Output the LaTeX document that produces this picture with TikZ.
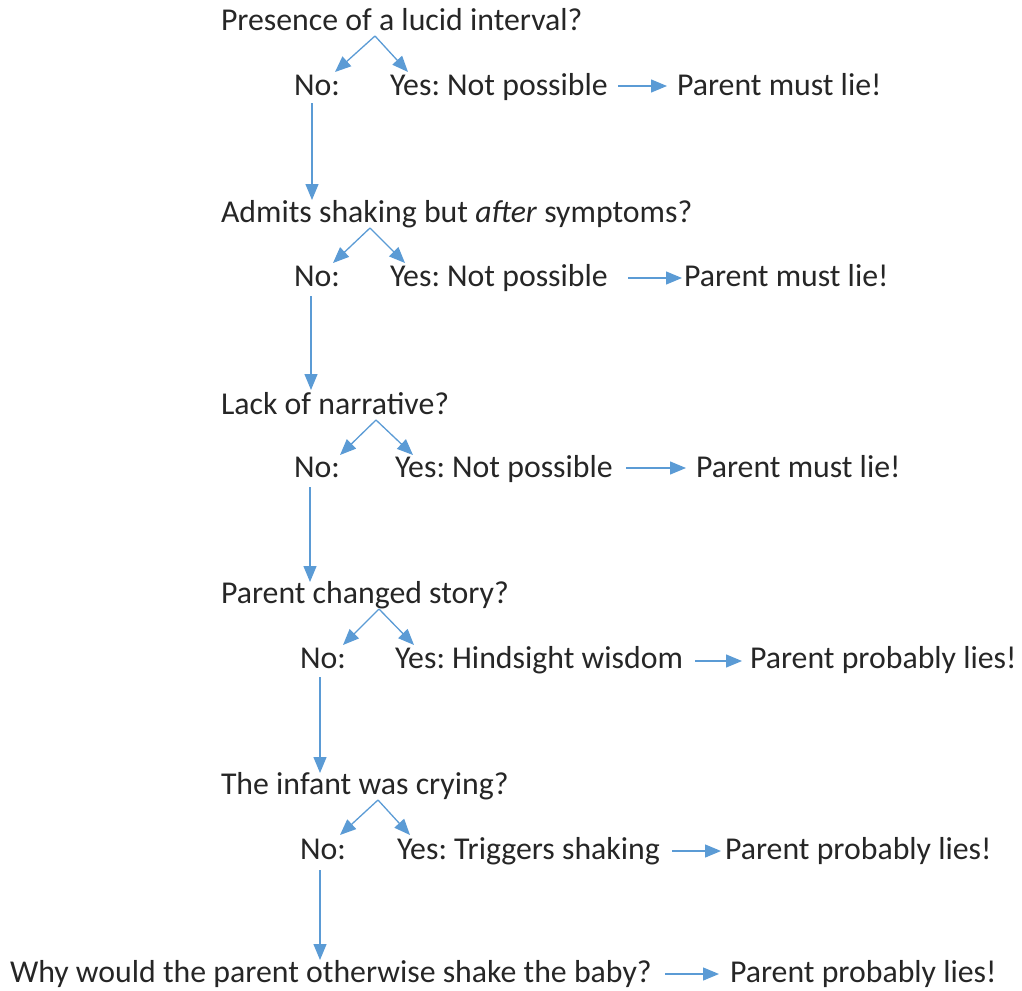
\documentclass[tikz,border=0pt]{standalone}
\usepackage{fontspec}
\setmainfont{Carlito}
\usetikzlibrary{arrows.meta}
\definecolor{arrblue}{RGB}{91,155,213}
\definecolor{txt}{RGB}{38,38,38}
\frenchspacing
\begin{document}
\begin{tikzpicture}[x=1pt,y=-1pt,
  lbl/.style={anchor=base west,inner sep=0pt,outer sep=0pt,text=txt,font=\fontsize{31.8}{36}\selectfont},
  conn/.style={draw=arrblue,line width=1.3pt,-{Triangle[length=16pt,width=13pt]}},
  hconn/.style={draw=arrblue,line width=1.3pt,-{Triangle[length=16pt,width=13pt]}}]
\useasboundingbox (0,0) rectangle (1022,990);
% Row 1
\node[lbl] (q1) at (221,31) {Presence of a lucid interval?};
\node[lbl] (n1) at (294,95) {No:};
\node[lbl] (y1) at (390,95) {Yes: Not possible};
\node[lbl] (r1) at (677,95) {Parent must lie!};
\coordinate (a1) at (375,36);
\coordinate (an1) at (335,72);
\coordinate (ay1) at (408,72);
\draw[conn] (a1) -- (an1);
\draw[conn] (a1) -- (ay1);
\coordinate (h1s) at (618,86);
\coordinate (h1e) at (667,86);
\draw[hconn] (h1s) -- (h1e);
\coordinate (v1s) at (312,103);
\coordinate (v1e) at (312,200);
\draw[conn] (v1s) -- (v1e);
% Row 2
\node[lbl] (q2) at (221,222) {Admits shaking but \textit{after} symptoms?};
\node[lbl] (n2) at (294,286) {No:};
\node[lbl] (y2) at (390,286) {Yes: Not possible};
\node[lbl] (r2) at (684,286) {Parent must lie!};
\coordinate (a2) at (370,228);
\coordinate (an2) at (333,263);
\coordinate (ay2) at (405,263);
\draw[conn] (a2) -- (an2);
\draw[conn] (a2) -- (ay2);
\coordinate (h2s) at (628,278);
\coordinate (h2e) at (682,278);
\draw[hconn] (h2s) -- (h2e);
\coordinate (v2s) at (311,296);
\coordinate (v2e) at (311,390);
\draw[conn] (v2s) -- (v2e);
% Row 3
\node[lbl] (q3) at (221,414) {Lack of narrative?};
\node[lbl] (n3) at (294,477) {No:};
\node[lbl] (y3) at (395,477) {Yes: Not possible};
\node[lbl] (r3) at (696,477) {Parent must lie!};
\coordinate (a3) at (376,420);
\coordinate (an3) at (340,455);
\coordinate (ay3) at (413,455);
\draw[conn] (a3) -- (an3);
\draw[conn] (a3) -- (ay3);
\coordinate (h3s) at (626,468);
\coordinate (h3e) at (686,468);
\draw[hconn] (h3s) -- (h3e);
\coordinate (v3s) at (310,487);
\coordinate (v3e) at (310,582);
\draw[conn] (v3s) -- (v3e);
% Row 4
\node[lbl] (q4) at (221,603) {Parent changed story?};
\node[lbl] (n4) at (300,668) {No:};
\node[lbl] (y4) at (395,668) {Yes: Hindsight wisdom};
\node[lbl] (r4) at (750,668) {Parent probably lies!};
\coordinate (a4) at (379,609);
\coordinate (an4) at (343,645);
\coordinate (ay4) at (414,645);
\draw[conn] (a4) -- (an4);
\draw[conn] (a4) -- (ay4);
\coordinate (h4s) at (695,661);
\coordinate (h4e) at (742,661);
\draw[hconn] (h4s) -- (h4e);
\coordinate (v4s) at (320,677);
\coordinate (v4e) at (320,773);
\draw[conn] (v4s) -- (v4e);
% Row 5
\node[lbl] (q5) at (221,794) {The infant was crying?};
\node[lbl] (n5) at (300,859) {No:};
\node[lbl] (y5) at (397,859) {Yes: Triggers shaking};
\node[lbl] (r5) at (725,859) {Parent probably lies!};
\coordinate (a5) at (378,800);
\coordinate (an5) at (340,835);
\coordinate (ay5) at (410,835);
\draw[conn] (a5) -- (an5);
\draw[conn] (a5) -- (ay5);
\coordinate (h5s) at (672,851);
\coordinate (h5e) at (721,851);
\draw[hconn] (h5s) -- (h5e);
\coordinate (v5s) at (320,870);
\coordinate (v5e) at (320,960);
\draw[conn] (v5s) -- (v5e);
% Row 6
\node[lbl] (q6) at (10,982) {Why would the parent otherwise shake the baby?};
\node[lbl] (r6) at (730,982) {Parent probably lies!};
\coordinate (h6s) at (665,974);
\coordinate (h6e) at (719,974);
\draw[hconn] (h6s) -- (h6e);
\end{tikzpicture}
\end{document}
